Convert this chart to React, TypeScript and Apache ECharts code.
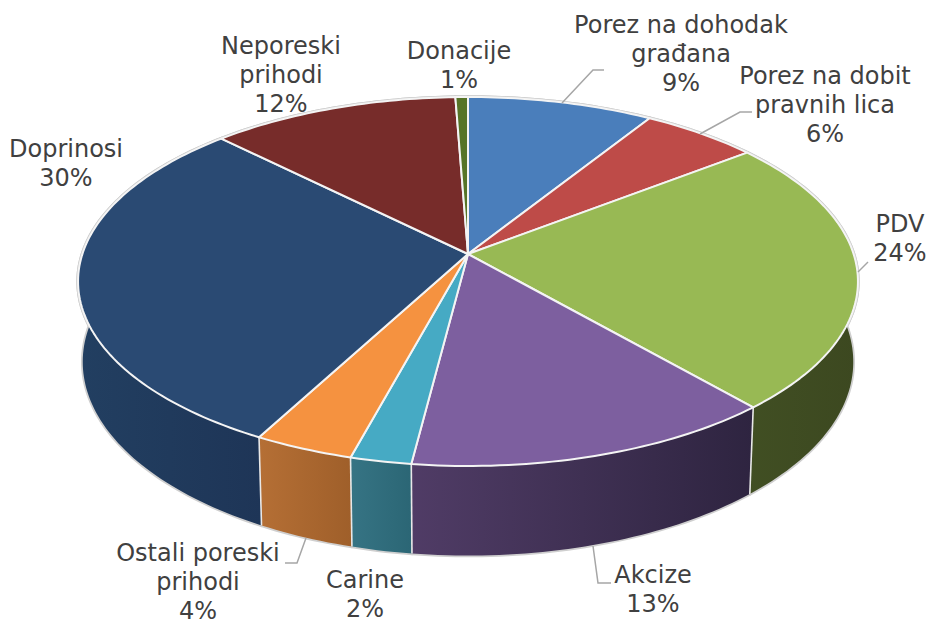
import React, { useEffect, useRef } from "react";
import * as echarts from "echarts";

const categories = [
  "Porez na dohodak\ngrađana",
  "Porez na dobit\npravnih lica",
  "PDV",
  "Akcize",
  "Carine",
  "Ostali poreski\nprihodi",
  "Doprinosi",
  "Neporeski\nprihodi",
  "Donacije",
];
const shares = [8.9, 5.6, 24.1, 13.4, 2.2, 3.6, 29.7, 11.9, 0.6];

const topColors = ["#4a7ebb", "#be4b48", "#98b954", "#7d5f9f", "#46aac4", "#f59240", "#2a4a73", "#772c2a", "#567427"];
const sideLeftColors = ["#2c4a70", "#70302e", "#414f23", "#503c66", "#367484", "#b56f35", "#223f61", "#4e1d1c", "#39491c"];
const sideRightColors = ["#2c4a70", "#70302e", "#3c4820", "#2e2440", "#2b6675", "#9f5f2a", "#1e3557", "#4e1d1c", "#39491c"];

// Label layout: centre x, centre y of the text block
const labelX = [681, 825, 900, 653, 365, 198, 66, 281, 459];
const labelY = [54, 105, 238, 589, 594, 582, 163, 75, 65];
const labelLeaders: number[][][] = [
  [[562, 103], [593, 70], [604, 70]],
  [[700, 134], [740, 112], [752, 112]],
  [[858, 272], [868, 262]],
  [[593, 546], [598, 583], [611, 583]],
  [],
  [[306, 538], [297, 563], [285, 563]],
  [],
  [],
  [],
];

// Perspective model of the disc
const CX = 468;
const CY = 254;
const RX = 385.6;
const RY = 180.4;
const K = 0.149;
const BOTTOM_SX = 0.988;
const BOTTOM_SY = 1.05;
const BOTTOM_CY = 333;

const total = shares.reduce((a, b) => a + b, 0);
const cumulative = shares.map((_, i) => shares.slice(0, i).reduce((a, b) => a + b, 0));

function project(theta: number, bottom: boolean): number[] {
  const u = Math.sin(theta);
  const v = -Math.cos(theta);
  const w = 1 - K * v;
  const px = (u / w) * RX;
  const py = (v / w) * RY;
  return bottom
    ? [CX + px * BOTTOM_SX, BOTTOM_CY + py * BOTTOM_SY]
    : [CX + px, CY + py];
}

function arc(i: number, bottom: boolean): number[][] {
  const a0 = (cumulative[i] / total) * Math.PI * 2;
  const a1 = ((cumulative[i] + shares[i]) / total) * Math.PI * 2;
  const n = Math.max(4, Math.ceil((a1 - a0) / 0.02));
  const pts: number[][] = [];
  for (let k = 0; k <= n; k++) pts.push(project(a0 + ((a1 - a0) * k) / n, bottom));
  return pts;
}

const topPoly = (i: number) => [[CX, CY], ...arc(i, false)];
const sidePoly = (i: number) => [...arc(i, false), ...arc(i, true).reverse()];

const seriesData = categories.map((name, i) => ({ name, value: shares[i] }));

export default function App() {
  const ref = useRef<HTMLDivElement>(null);
  useEffect(() => {
    if (!ref.current) return;
    document.body.style.margin = "0";
    const chart = echarts.init(ref.current, undefined, { renderer: "svg" });
    chart.setOption({
      animation: false,
      backgroundColor: "#ffffff",
      tooltip: { show: false },
      series: [
        {
          type: "custom",
          name: "outline",
          coordinateSystem: "none",
          silent: true,
          data: seriesData,
          renderItem: (params: any) => {
            const i = params.dataIndex;
            const style = { fill: "#d4d4d4", stroke: "#cfcfcf", lineWidth: 3.5, lineJoin: "round" };
            return {
              type: "group",
              children: [
                { type: "polygon", shape: { points: sidePoly(i) }, style },
                { type: "polygon", shape: { points: topPoly(i) }, style },
              ],
            };
          },
        },
        {
          type: "custom",
          name: "sides",
          coordinateSystem: "none",
          silent: true,
          data: seriesData,
          renderItem: (params: any) => {
            const i = params.dataIndex;
            const a0 = (cumulative[i] / total) * Math.PI * 2;
            return {
              type: "group",
              children: [
                {
                  type: "polygon",
                  shape: { points: sidePoly(i) },
                  style: {
                    fill: new echarts.graphic.LinearGradient(0, 0, 1, 0, [
                      { offset: 0, color: sideLeftColors[i] },
                      { offset: 1, color: sideRightColors[i] },
                    ]),
                  },
                },
                {
                  type: "line",
                  shape: {
                    x1: project(a0, false)[0],
                    y1: project(a0, false)[1],
                    x2: project(a0, true)[0],
                    y2: project(a0, true)[1],
                  },
                  style: { stroke: "#e8e8e8", lineWidth: 1.6 },
                },
              ],
            };
          },
        },
        {
          type: "custom",
          name: "tops",
          coordinateSystem: "none",
          silent: true,
          data: seriesData,
          renderItem: (params: any) => {
            const i = params.dataIndex;
            return {
              type: "polygon",
              shape: { points: topPoly(i) },
              style: { fill: topColors[i], stroke: "#f4f4f4", lineWidth: 2, lineJoin: "round" },
            };
          },
        },
        {
          type: "custom",
          name: "labels",
          coordinateSystem: "none",
          silent: true,
          data: seriesData,
          renderItem: (params: any) => {
            const i = params.dataIndex;
            const pct = Math.round((shares[i] / total) * 100);
            const children: any[] = [
              {
                type: "text",
                x: labelX[i],
                y: labelY[i],
                style: {
                  text: `${categories[i]}\n${pct}%`,
                  align: "center",
                  verticalAlign: "middle",
                  fontFamily: "DejaVu Sans",
                  fontSize: 24,
                  lineHeight: 29,
                  fill: "#404040",
                },
              },
            ];
            if (labelLeaders[i].length) {
              children.push({
                type: "polyline",
                shape: { points: labelLeaders[i] },
                style: { stroke: "#a6a6a6", lineWidth: 1.5, fill: "none" },
              });
            }
            return { type: "group", children };
          },
        },
      ],
    });
    return () => chart.dispose();
  }, []);
  return <div ref={ref} style={{ width: 930, height: 621 }} />;
}
